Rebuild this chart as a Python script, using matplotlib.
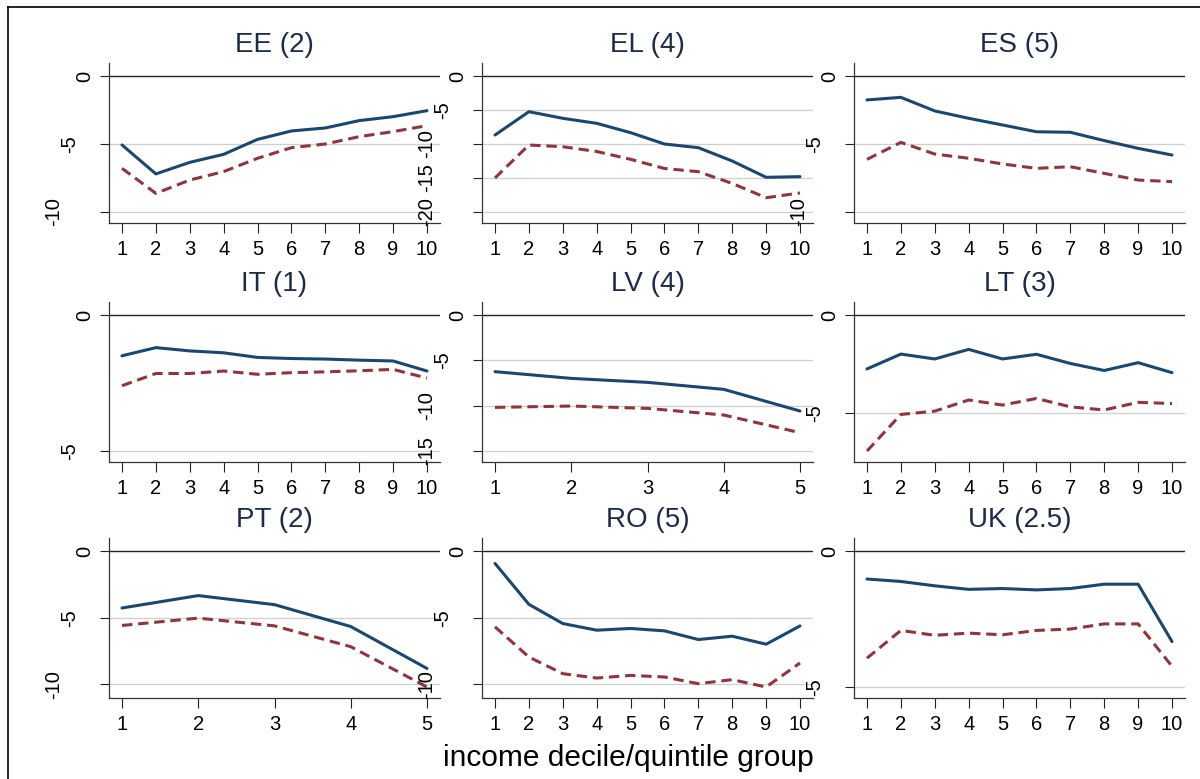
import matplotlib.pyplot as plt
from matplotlib.lines import Line2D

plt.rcParams['font.family'] = ['Liberation Sans', 'DejaVu Sans']

# panel titles and y labels
titles = ['EE (2)', 'EL (4)', 'ES (5)', 'IT (1)', 'LV (4)', 'LT (3)', 'PT (2)', 'RO (5)', 'UK (2.5)']
yticks = [[0, -5, -10], [0, -5, -10, -15, -20], [0, -5, -10],
          [0, -5], [0, -5, -10, -15], [0, -5],
          [0, -5, -10], [0, -5, -10], [0, -5]]

# solid (blue) and dashed (red) series
ee_blue = [-5.07, -7.2, -6.35, -5.76, -4.66, -4.04, -3.82, -3.28, -2.99, -2.55]
ee_red = [-6.79, -8.63, -7.65, -7.03, -6.05, -5.27, -5.0, -4.46, -4.09, -3.65]
el_blue = [-8.68, -5.25, -6.22, -6.96, -8.33, -10.0, -10.54, -12.5, -14.9, -14.8]
el_red = [-15.0, -10.15, -10.4, -11.1, -12.25, -13.6, -14.07, -15.8, -17.9, -17.2]
es_blue = [-1.76, -1.57, -2.57, -3.11, -3.6, -4.1, -4.14, -4.75, -5.32, -5.81]
es_red = [-6.13, -4.88, -5.74, -6.05, -6.47, -6.79, -6.67, -7.16, -7.65, -7.77]
it_blue = [-1.5, -1.2, -1.32, -1.39, -1.56, -1.6, -1.62, -1.66, -1.69, -2.06]
it_red = [-2.6, -2.15, -2.15, -2.06, -2.18, -2.12, -2.09, -2.05, -2.0, -2.32]
lv_blue = [-6.25, -6.99, -7.43, -8.2, -10.59]
lv_red = [-10.19, -10.04, -10.3, -11.03, -12.98]
lt_blue = [-2.76, -2.0, -2.25, -1.76, -2.25, -2.01, -2.48, -2.84, -2.44, -2.95]
lt_red = [-6.96, -5.09, -4.92, -4.35, -4.61, -4.27, -4.7, -4.86, -4.47, -4.53]
pt_blue = [-4.27, -3.34, -4.02, -5.66, -8.8]
pt_red = [-5.58, -5.03, -5.61, -7.17, -10.19]
ro_blue = [-0.93, -4.0, -5.44, -5.94, -5.81, -5.99, -6.64, -6.39, -6.99, -5.62]
ro_red = [-5.69, -7.95, -9.2, -9.53, -9.33, -9.45, -9.95, -9.65, -10.2, -8.4]
uk_blue = [-1.03, -1.12, -1.28, -1.41, -1.38, -1.43, -1.38, -1.22, -1.22, -3.33]
uk_red = [-3.94, -2.92, -3.1, -3.02, -3.08, -2.92, -2.87, -2.68, -2.68, -4.24]

blue = [ee_blue, el_blue, es_blue, it_blue, lv_blue, lt_blue, pt_blue, ro_blue, uk_blue]
red = [ee_red, el_red, es_red, it_red, lv_red, lt_red, pt_red, ro_red, uk_red]

NAVY = '#1a476f'
MAROON = '#90353b'
TITLE_C = '#1c2b4a'

W, H = 1200, 779
fig = plt.figure(figsize=(12, 7.79), dpi=100)

col_left = [109, 482, 854]
row_top = [63, 302, 538]
ax_w, ax_h = 331, 160
px = 0.72  # points per pixel

for i in range(9):
    r, c = divmod(i, 3)
    l, t = col_left[c], row_top[r]
    ax = fig.add_axes([l / W, 1 - (t + ax_h) / H, ax_w / W, ax_h / H])
    b, d = blue[i], red[i]
    n = len(b)
    xs = list(range(1, n + 1))

    # y span: from lowest tick/data point up to 0
    lo = min(min(yticks[i]), min(b), min(d))
    span = 0 - lo
    ax.set_ylim(lo - span * 11 / 136, span * 13 / 136)
    mx = 0.0426 * (n - 1)
    ax.set_xlim(1 - mx, n + mx)

    for v in yticks[i]:
        if v == 0:
            ax.axhline(v, color='#222222', lw=1.0, zorder=1)
        else:
            ax.axhline(v, color='#cfcfcf', lw=0.9, zorder=1)

    ax.plot(xs, b, color=NAVY, lw=2.2, zorder=3, solid_capstyle='round')
    ax.plot(xs, d, color=MAROON, lw=2.2, zorder=3, linestyle=(0, (3.4, 1.9)))

    ax.set_xticks(xs)
    ax.set_xticklabels([str(x) for x in xs], fontsize=14.5)
    ax.set_yticks(yticks[i])
    ax.set_yticklabels([])
    ax.tick_params(axis='x', length=7, width=0.8, pad=5, color='#222222')
    ax.tick_params(axis='y', length=6.5, width=0.8, color='#222222')
    for s in ['top', 'right']:
        ax.spines[s].set_visible(False)
    for s in ['left', 'bottom']:
        ax.spines[s].set_color('#333333')
        ax.spines[s].set_linewidth(0.9)
    ax.patch.set_alpha(0)

    # rotated y labels, shifted left by label length
    for v in yticks[i]:
        lab = str(v)
        off = 24 + 15.5 * (len(lab) - 1)
        ax.annotate(lab, xy=(0, v), xycoords=ax.get_yaxis_transform(),
                    xytext=(-off * px, 0), textcoords='offset points',
                    rotation=90, ha='center', va='center', fontsize=14.5,
                    annotation_clip=False)

    ax.annotate(titles[i], xy=(0.5, 1), xycoords='axes fraction',
                xytext=(0, 18 * px), textcoords='offset points',
                ha='center', va='center', fontsize=20, color=TITLE_C)

fig.text(628 / W, 1 - 758 / H, 'income decile/quintile group',
         ha='center', va='center', fontsize=21.5)

# outer frame (left and top edges only)
fig.add_artist(Line2D([8 / W, 8 / W], [0, 1 - 7 / H], color='black', lw=1.2))
fig.add_artist(Line2D([8 / W, 1], [1 - 7 / H, 1 - 7 / H], color='black', lw=1.2))

fig.savefig('out.png', dpi=100)
